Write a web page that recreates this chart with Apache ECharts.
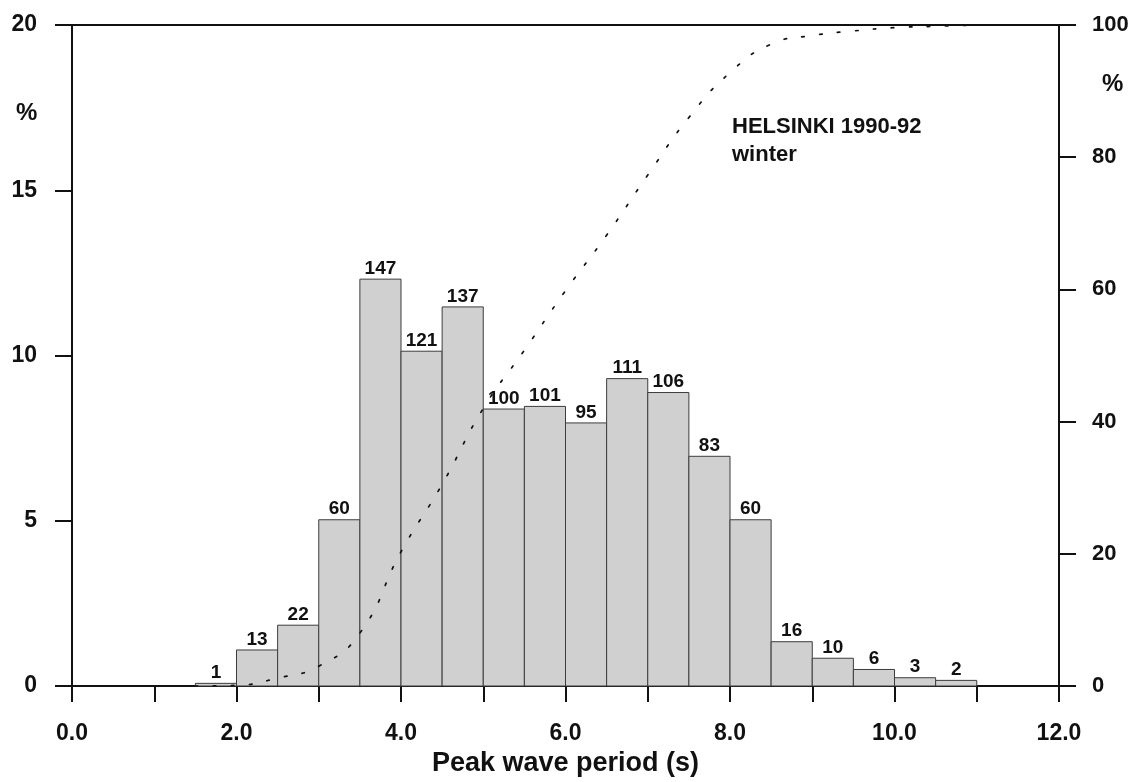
<!DOCTYPE html>
<html>
<head>
<meta charset="utf-8">
<script src="https://cdn.jsdelivr.net/npm/echarts@6/dist/echarts.min.js"></script>
<style>
  html, body { margin: 0; padding: 0; background: #ffffff; }
  #chart { width: 1140px; height: 782px; }
</style>
</head>
<body>
<div id="chart"></div>
<script>
// ---- data ----
const binStart = [1.5, 2.0, 2.5, 3.0, 3.5, 4.0, 4.5, 5.0, 5.5, 6.0, 6.5, 7.0, 7.5, 8.0, 8.5, 9.0, 9.5, 10.0, 10.5];
const binWidth = 0.5;
const counts = [1, 13, 22, 60, 147, 121, 137, 100, 101, 95, 111, 106, 83, 60, 16, 10, 6, 3, 2];
const percent = [0.08, 1.09, 1.84, 5.03, 12.31, 10.13, 11.47, 8.38, 8.46, 7.96, 9.30, 8.88, 6.95, 5.03, 1.34, 0.84, 0.50, 0.25, 0.17];
// cumulative percentage curve (right axis), read at the bin edges
const cumX = [1.5, 2.0, 2.5, 3.0, 3.5, 4.0, 4.5, 5.0, 5.5, 6.0, 6.5, 7.0, 7.5, 8.0, 8.5, 9.0, 9.5, 10.0, 10.5, 11.0];
const cumPct = [0, 0.1, 1.2, 3.0, 8.0, 20.3, 30.5, 42.0, 50.8, 59.8, 68.2, 77.3, 86.0, 92.8, 97.1, 98.4, 99.1, 99.6, 99.8, 100];
const xTicks = { min: 0, max: 12, step: 1 };
const leftTicks = { min: 0, max: 20, step: 5 };
const rightTicks = { min: 0, max: 100, step: 20 };
const xTitle = 'Peak wave period (s)';
const unitLabel = '%';
const noteLines = ['HELSINKI 1990-92', 'winter'];

const FONT = '"Liberation Sans", Arial, Helvetica, sans-serif';
const chart = echarts.init(document.getElementById('chart'), null, { renderer: 'canvas' });

const histData = binStart.map((s, i) => [s, s + binWidth, percent[i], counts[i]]);
const cumData = cumX.map((x, i) => [x, cumPct[i]]);

const axisLineStyle = { color: '#111', width: 2 };

const option = {
  backgroundColor: '#ffffff',
  animation: false,
  grid: { left: 72, right: 81, top: 25, bottom: 95, containLabel: false },
  xAxis: [{
    type: 'value',
    min: xTicks.min, max: xTicks.max, interval: xTicks.step,
    name: xTitle,
    nameLocation: 'middle',
    nameGap: 64,
    nameTextStyle: { fontFamily: FONT, fontWeight: 'bold', fontSize: 27, color: '#111', verticalAlign: 'top' },
    axisLine: { show: true, onZero: false, lineStyle: axisLineStyle },
    axisTick: { show: true, inside: false, length: 16, lineStyle: { color: '#111', width: 2 } },
    axisLabel: {
      margin: 36,
      fontFamily: FONT, fontWeight: 'bold', fontSize: 23, color: '#111',
      formatter: v => (Math.round(v) % 2 === 0 ? v.toFixed(1) : '')
    },
    splitLine: { show: false }
  }, {
    type: 'value', position: 'top',
    min: xTicks.min, max: xTicks.max,
    axisLine: { show: true, onZero: false, lineStyle: axisLineStyle },
    axisTick: { show: false }, axisLabel: { show: false }, splitLine: { show: false }
  }],
  yAxis: [{
    type: 'value', position: 'left',
    min: leftTicks.min, max: leftTicks.max, interval: leftTicks.step,
    axisLine: { show: true, onZero: false, lineStyle: axisLineStyle },
    axisTick: { show: true, inside: false, length: 17, lineStyle: { color: '#111', width: 2 } },
    axisLabel: { margin: 35, fontFamily: FONT, fontWeight: 'bold', fontSize: 23, color: '#111' },
    splitLine: { show: false }
  }, {
    type: 'value', position: 'right',
    min: rightTicks.min, max: rightTicks.max, interval: rightTicks.step,
    axisLine: { show: true, onZero: false, lineStyle: axisLineStyle },
    axisTick: { show: true, inside: false, length: 17, lineStyle: { color: '#111', width: 2 } },
    axisLabel: { margin: 33, fontFamily: FONT, fontWeight: 'bold', fontSize: 22, color: '#111' },
    splitLine: { show: false }
  }],
  series: [{
    type: 'custom',
    xAxisIndex: 0, yAxisIndex: 0,
    z: 2,
    data: histData,
    renderItem: function (params, api) {
      const x0 = api.value(0), x1 = api.value(1), y = api.value(2), n = api.value(3);
      const pTop = api.coord([x0, y]);
      const pBot = api.coord([x1, 0]);
      return {
        type: 'group',
        children: [{
          type: 'rect',
          shape: { x: pTop[0], y: pTop[1], width: pBot[0] - pTop[0], height: pBot[1] - pTop[1] },
          style: { fill: '#d0d0d0', stroke: '#3c3c3c', lineWidth: 1 }
        }, {
          type: 'text',
          style: {
            text: String(n),
            x: (pTop[0] + pBot[0]) / 2, y: pTop[1] - 1,
            align: 'center', verticalAlign: 'bottom',
            font: 'bold 19px ' + FONT, fill: '#111'
          }
        }]
      };
    }
  }, {
    type: 'line',
    xAxisIndex: 0, yAxisIndex: 1,
    z: 5,
    data: cumData,
    smooth: 0.5,
    showSymbol: false,
    symbol: 'none',
    lineStyle: { color: '#111', width: 1.7, type: [2.5, 15.5], cap: 'round' }
  }],
  graphic: [{
    type: 'text', left: 16, top: 101,
    style: { text: unitLabel, font: 'bold 24px ' + FONT, fill: '#111' }
  }, {
    type: 'text', left: 1102, top: 72,
    style: { text: unitLabel, font: 'bold 24px ' + FONT, fill: '#111' }
  }, {
    type: 'text', left: 732, top: 116,
    style: { text: noteLines[0], font: 'bold 22px ' + FONT, fill: '#111' }
  }, {
    type: 'text', left: 732, top: 144,
    style: { text: noteLines[1], font: 'bold 22px ' + FONT, fill: '#111' }
  }]
};

chart.setOption(option);
</script>
</body>
</html>
